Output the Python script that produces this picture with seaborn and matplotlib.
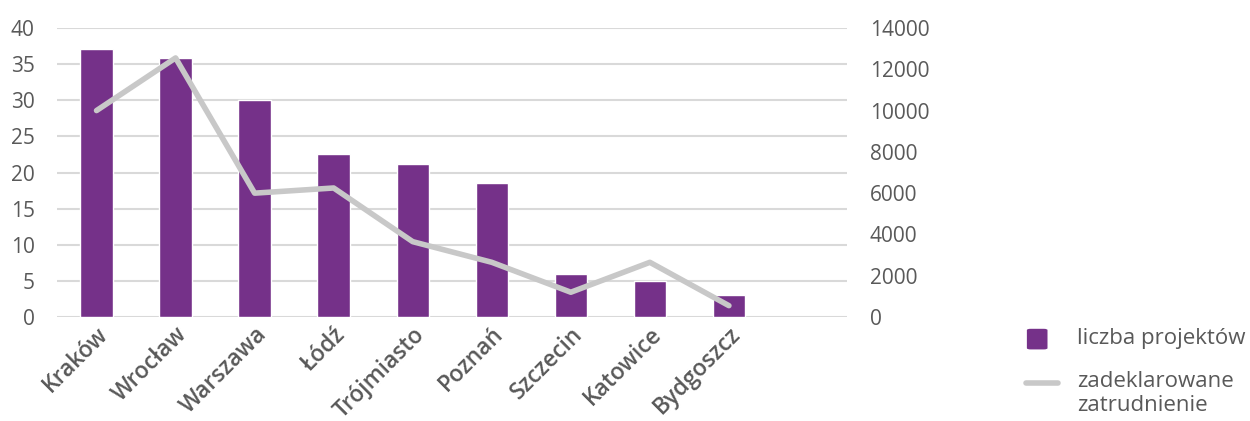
import matplotlib
matplotlib.use("Agg")
import matplotlib.pyplot as plt
from matplotlib.lines import Line2D
from matplotlib.patches import FancyBboxPatch
import numpy as np
import pandas as pd
import seaborn as sns

cities = ["Kraków", "Wrocław", "Warszawa", "Łódź", "Trójmiasto",
          "Poznań", "Szczecin", "Katowice", "Bydgoszcz"]
projects = [37.1, 35.8, 30, 22.5, 21.2, 18.5, 6, 5, 3]
employment = [10000, 12550, 6000, 6250, 3650, 2650, 1200, 2650, 550]

bar_label = "liczba projektów"
line_label = "zadeklarowane\nzatrudnienie"

purple = "#753189"
gray_line = "#C8C8C8"
txt = "#595959"

sns.set_theme(style="white")
plt.rcParams["font.family"] = ["Open Sans", "DejaVu Sans"]

df = pd.DataFrame({"city": cities, "projects": projects, "employment": employment})
order = cities + [" "]

fig = plt.figure(figsize=(12.5, 4.21), dpi=100)
ax = fig.add_axes([0.0456, 0.247, 0.6324, 0.6865])

sns.barplot(data=df, x="city", y="projects", order=order, color=purple,
            width=0.41, saturation=1, ax=ax)
ax.set_ylim(0, 40)
ax.set_yticks(range(0, 41, 5))
ax.set_xlim(-0.5, 9.5)
ax.yaxis.grid(True, color="#D9D9D9", lw=1.5)
ax.set_axisbelow(True)
ax.set_xlabel("")
ax.set_ylabel("")
for s in ax.spines.values():
    s.set_visible(False)
ax.tick_params(axis="y", length=0, labelsize=15, labelcolor=txt, pad=16)
ax.tick_params(axis="x", length=0, labelsize=16.5, labelcolor=txt, pad=4)
for lab in ax.get_xticklabels():
    lab.set_rotation(45)
    lab.set_ha("right")
    lab.set_rotation_mode("anchor")
    lab.set_fontweight("semibold")

ax2 = ax.twinx()
sns.lineplot(x=np.arange(len(cities)), y=df["employment"], color=gray_line,
             lw=4, sort=False, ax=ax2)
ax2.set_ylim(0, 14000)
ax2.set_yticks(range(0, 14001, 2000))
ax2.set_ylabel("")
for s in ax2.spines.values():
    s.set_visible(False)
ax2.tick_params(axis="y", length=0, labelsize=15, labelcolor=txt, pad=16)
ax2.set_xlim(-0.5, 9.5)

# legend, drawn by hand in figure coordinates
fig.add_artist(FancyBboxPatch((0.8215, 0.170), 0.0165, 0.049,
                              boxstyle="round,pad=0,rounding_size=0.003",
                              transform=fig.transFigure, facecolor=purple,
                              edgecolor="none"))
fig.add_artist(Line2D([0.8208, 0.8464], [0.0903, 0.0903], color=gray_line,
                      lw=4, transform=fig.transFigure))
fig.text(0.8616, 0.197, bar_label, fontsize=16, color=txt, va="center")
fig.text(0.8616, 0.118, line_label, fontsize=16, color=txt, va="top",
         linespacing=1.15)

fig.savefig("out.png", dpi=100)
